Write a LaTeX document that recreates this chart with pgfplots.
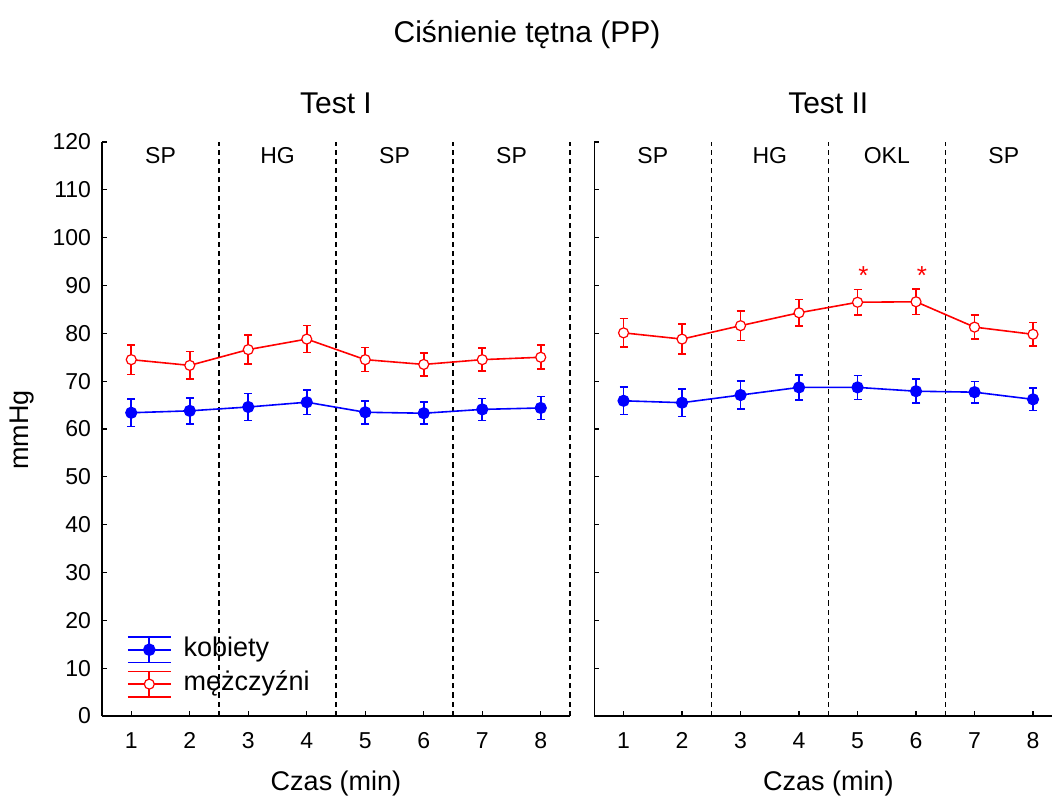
\documentclass[border=0pt]{standalone}
\usepackage{fontspec}
\setmainfont{Liberation Sans}
\usepackage{pgfplots}
\pgfplotsset{compat=1.18}
\newcommand{\fs}[1]{\fontsize{#1}{#1}\selectfont}
\tikzset{vdash/.style={black, line width=0.6pt, dash pattern=on 2.6pt off 2pt}}
\begin{document}
\begin{tikzpicture}
\pgfplotsset{
  panel/.style={
    scale only axis, height=287pt, clip=false,
    ymin=0, ymax=120, xmin=0.5,
    axis x line*=bottom, axis y line*=left,
    axis line style={line width=0.7pt, -},
    tick align=inside, major tick length=2.5pt,
    tick style={line width=0.6pt, black},
    xtick={1,...,8}, ytick={0,10,...,120},
    tick label style={font=\fs{11.5}},
    xticklabel style={yshift=-4.8pt},
    yticklabel style={xshift=-2pt},
    /pgf/number format/assume math mode=true,
  },
  fem/.style={blue, line width=0.8pt, mark=*, mark size=2.75pt,
    mark options={solid, fill=blue, line width=0.6pt},
    error bars/y dir=both, error bars/y explicit,
    error bars/error bar style={line width=0.8pt, blue},
    error bars/error mark options={rotate=90, mark size=2pt, line width=0.8pt, blue},
    legend image code/.code={
      \draw[blue, line width=0.8pt] (0pt,6.35pt) -- (21.5pt,6.35pt);
      \draw[blue, line width=0.8pt] (0pt,-6.35pt) -- (21.5pt,-6.35pt);
      \draw[blue, line width=0.8pt] (10.75pt,-6.35pt) -- (10.75pt,6.35pt);
      \draw[blue, line width=0.8pt] (0pt,0pt) -- (21.5pt,0pt);
      \fill[blue] (10.75pt,0pt) circle (2.75pt);
    }},
  male/.style={red, line width=0.8pt, mark=*, mark size=2.5pt,
    mark options={solid, fill=white, draw=red, line width=0.6pt},
    error bars/y dir=both, error bars/y explicit,
    error bars/error bar style={line width=0.8pt, red},
    error bars/error mark options={rotate=90, mark size=2pt, line width=0.8pt, red},
    legend image code/.code={
      \draw[red, line width=0.8pt] (0pt,6.35pt) -- (21.5pt,6.35pt);
      \draw[red, line width=0.8pt] (0pt,-6.35pt) -- (21.5pt,-6.35pt);
      \draw[red, line width=0.8pt] (10.75pt,-6.35pt) -- (10.75pt,6.35pt);
      \draw[red, line width=0.8pt] (0pt,0pt) -- (21.5pt,0pt);
      \filldraw[draw=red, fill=white, line width=0.6pt] (10.75pt,0pt) circle (2.5pt);
    }},
}
\path[use as bounding box] (-51pt,-41.5pt) rectangle (475pt,358pt);
\node[font=\fs{15}] at (212.5pt,340.5pt) {Ciśnienie tętna (PP)};
\node[font=\fs{13.5}, rotate=90] at (-40pt,143pt) {mmHg};

% ---------- Test I ----------
\begin{axis}[panel, width=234pt, xmax=8.5, at={(0pt,0pt)}, anchor=south west,
  legend style={draw=none, fill=none, at={(0,0)}, anchor=south west,
    xshift=12.3pt, yshift=9pt, inner sep=0pt, row sep=3.7pt, column sep=6pt,
    font=\fs{13.5}, nodes={inner sep=0pt, text height=9.7pt, text depth=3.3pt}},
  legend cell align=left]
\draw[vdash] (axis cs:2.5,0) -- (axis cs:2.5,120);
\draw[vdash] (axis cs:4.5,0) -- (axis cs:4.5,120);
\draw[vdash] (axis cs:6.5,0) -- (axis cs:6.5,120);
\draw[vdash] (axis cs:8.5,0) -- (axis cs:8.5,120);
\addplot+[fem] coordinates {
 (1,63.4) +- (0,2.9) (2,63.8) +- (0,2.7) (3,64.6) +- (0,2.8) (4,65.6) +- (0,2.6)
 (5,63.5) +- (0,2.4) (6,63.3) +- (0,2.3) (7,64.1) +- (0,2.3) (8,64.4) +- (0,2.4)};
\addlegendentry{kobiety}
\addplot+[male] coordinates {
 (1,74.5) +- (0,3.1) (2,73.3) +- (0,2.9) (3,76.6) +- (0,3.0) (4,78.8) +- (0,2.8)
 (5,74.5) +- (0,2.5) (6,73.5) +- (0,2.4) (7,74.5) +- (0,2.4) (8,75.0) +- (0,2.5)};
\addlegendentry{mężczyźni}
\node[font=\fs{11.5}] at (axis cs:1.5,117.2) {SP};
\node[font=\fs{11.5}] at (axis cs:3.5,117.2) {HG};
\node[font=\fs{11.5}] at (axis cs:5.5,117.2) {SP};
\node[font=\fs{11.5}] at (axis cs:7.5,117.2) {SP};
\node[font=\fs{15}] at (axis cs:4.5,120) [yshift=19.5pt] {Test I};
\node[font=\fs{13.5}] at (axis cs:4.5,0) [yshift=-33.5pt] {Czas (min)};
\end{axis}

% ---------- Test II ----------
\begin{axis}[panel, width=229pt, xmax=8.33, yticklabels={}, at={(246.15pt,0pt)}, anchor=south west]
\draw[vdash] (axis cs:2.5,0) -- (axis cs:2.5,120);
\draw[vdash] (axis cs:4.5,0) -- (axis cs:4.5,120);
\draw[vdash] (axis cs:6.5,0) -- (axis cs:6.5,120);
\addplot+[fem] coordinates {
 (1,65.9) +- (0,2.85) (2,65.5) +- (0,2.85) (3,67.1) +- (0,2.95) (4,68.7) +- (0,2.6)
 (5,68.7) +- (0,2.5) (6,67.9) +- (0,2.5) (7,67.7) +- (0,2.25) (8,66.2) +- (0,2.35)};
\addplot+[male] coordinates {
 (1,80.1) +- (0,3.0) (2,78.8) +- (0,3.1) (3,81.6) +- (0,3.1) (4,84.3) +- (0,2.75)
 (5,86.5) +- (0,2.65) (6,86.6) +- (0,2.65) (7,81.3) +- (0,2.5) (8,79.8) +- (0,2.45)};
\node[font=\fs{11.5}] at (axis cs:1.5,117.2) {SP};
\node[font=\fs{11.5}] at (axis cs:3.5,117.2) {HG};
\node[font=\fs{11.5}] at (axis cs:5.5,117.2) {OKL};
\node[font=\fs{11.5}] at (axis cs:7.5,117.2) {SP};
\node[font=\fs{13}, text=red, anchor=base] at (axis cs:5.1,90.2) {*};
\node[font=\fs{13}, text=red, anchor=base] at (axis cs:6.1,90.2) {*};
\node[font=\fs{15}] at (axis cs:4.5,120) [yshift=19.5pt] {Test II};
\node[font=\fs{13.5}] at (axis cs:4.5,0) [yshift=-33.5pt] {Czas (min)};
\end{axis}
\end{tikzpicture}
\end{document}
